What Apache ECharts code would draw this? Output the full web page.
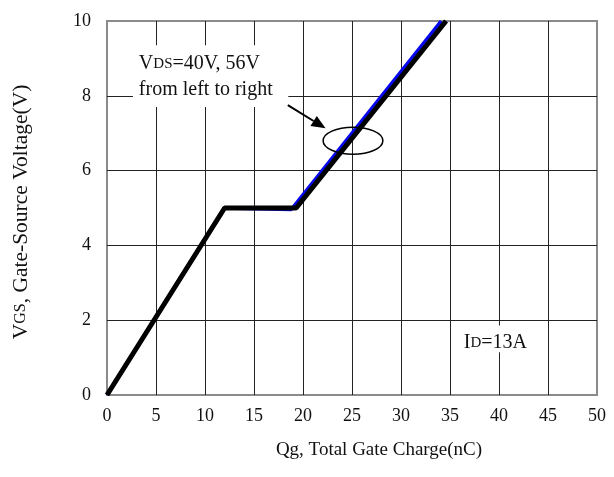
<!DOCTYPE html>
<html><head><meta charset="utf-8">
<script src="https://cdn.jsdelivr.net/npm/echarts@6/dist/echarts.min.js"></script>
<style>html,body{margin:0;padding:0;background:#fff}#c{width:614px;height:477px}</style>
</head><body><div id="c"></div>
<script>
// Gate charge curves (VDS = 40V blue, 56V black), ID = 13A
const qg40 = [0, 12, 18.8, 34.1];
const vgs40 = [0, 5, 4.96, 10];
const qg56 = [0, 12, 19.3, 34.6];
const vgs56 = [0, 5, 5, 10];
const xMin = 0, xMax = 50, xStep = 5;
const yMin = 0, yMax = 10, yStep = 2;

const FONT = '"Liberation Serif", "DejaVu Serif", serif';
const TXT = '#111';

function pairs(xs, ys) { return xs.map((x, i) => [x, ys[i]]); }

const chart = echarts.init(document.getElementById('c'));
chart.setOption({
  animation: false,
  backgroundColor: '#fff',
  grid: { left: 107, right: 17, top: 21, bottom: 82, show: true, borderColor: '#8a8a8a', borderWidth: 2, backgroundColor: 'transparent' },
  xAxis: {
    type: 'value', min: xMin, max: xMax, interval: xStep,
    axisLine: { show: false }, axisTick: { show: false },
    axisLabel: { color: TXT, fontFamily: FONT, fontSize: 18, margin: 12 },
    splitLine: { show: true, showMinLine: false, showMaxLine: false, lineStyle: { color: '#222', width: 1 } }
  },
  yAxis: {
    type: 'value', min: yMin, max: yMax, interval: yStep,
    axisLine: { show: false }, axisTick: { show: false },
    axisLabel: { color: TXT, fontFamily: FONT, fontSize: 18, margin: 16 },
    splitLine: { show: true, showMinLine: false, showMaxLine: false, lineStyle: { color: '#222', width: 1 } }
  },
  series: [
    { name: 'VDS=40V', type: 'line', data: pairs(qg40, vgs40), showSymbol: false, clip: true, z: 2,
      lineStyle: { color: '#0808f0', width: 3.6 } },
    { name: 'VDS=56V', type: 'line', data: pairs(qg56, vgs56), showSymbol: false, clip: true, z: 3,
      lineStyle: { color: '#000', width: 5 } }
  ]
});

// Annotations positioned from data coordinates
const P = (x, y) => chart.convertToPixel({ gridIndex: 0 }, [x, y]);
const boxTL = P(2.65, 9.35), boxBR = P(18.5, 7.7);
const t1 = P(3.25, 8.85), t2 = P(3.25, 8.15);
const aS = P(18.45, 7.75), aT = P(22.3, 7.13);
const eC = P(25.1, 6.8), eR = P(28.15, 7.16);
const idTL = P(35.5, 1.86), idBR = P(43.5, 1.14), idT = P(36.4, 1.4);

const dx = aT[0] - aS[0], dy = aT[1] - aS[1];
const len = Math.hypot(dx, dy), ux = dx / len, uy = dy / len;
const hl = 14, hw = 6;
const base = [aT[0] - ux * hl, aT[1] - uy * hl];
const head = [aT, [base[0] - uy * hw, base[1] + ux * hw], [base[0] + uy * hw, base[1] - ux * hw]];

const rich = {
  n: { fontFamily: FONT, fontSize: 20, fill: TXT },
  s: { fontFamily: FONT, fontSize: 15, fill: TXT }
};
const richT = {
  n: { fontFamily: FONT, fontSize: 21.5, fill: TXT },
  s: { fontFamily: FONT, fontSize: 16, fill: TXT }
};

chart.setOption({
  graphic: [
    { type: 'rect', z: 10, shape: { x: boxTL[0], y: boxTL[1], width: boxBR[0] - boxTL[0], height: boxBR[1] - boxTL[1] }, style: { fill: '#fff' } },
    { type: 'text', z: 11, x: t1[0], y: t1[1], style: { text: '{n|V}{s|DS}{n|=40V, 56V}', rich: rich, verticalAlign: 'middle', align: 'left' } },
    { type: 'text', z: 11, x: t2[0], y: t2[1], style: { text: 'from left to right', fontFamily: FONT, fontSize: 20, fill: TXT, verticalAlign: 'middle', align: 'left' } },
    { type: 'line', z: 11, shape: { x1: aS[0], y1: aS[1], x2: base[0], y2: base[1] }, style: { stroke: '#000', lineWidth: 2 } },
    { type: 'polygon', z: 11, shape: { points: head }, style: { fill: '#000' } },
    { type: 'ellipse', z: 11, shape: { cx: eC[0], cy: eC[1], rx: eR[0] - eC[0], ry: eC[1] - eR[1] }, style: { fill: 'none', stroke: '#000', lineWidth: 1.5 } },
    { type: 'rect', z: 10, shape: { x: idTL[0], y: idTL[1], width: idBR[0] - idTL[0], height: idBR[1] - idTL[1] }, style: { fill: '#fff' } },
    { type: 'text', z: 11, x: idT[0], y: idT[1], style: { text: '{n|I}{s|D}{n|=13A}', rich: rich, verticalAlign: 'middle', align: 'left' } },
    { type: 'text', z: 11, x: 379, y: 450, style: { text: 'Qg, Total Gate Charge(nC)', fontFamily: FONT, fontSize: 19, fill: TXT, align: 'center', verticalAlign: 'middle' } },
    { type: 'text', z: 11, x: 21, y: 212, rotation: Math.PI / 2, style: { text: '{n|V}{s|GS}{n|, Gate-Source Voltage(V)}', rich: richT, align: 'center', verticalAlign: 'middle' } }
  ]
});
</script></body></html>
